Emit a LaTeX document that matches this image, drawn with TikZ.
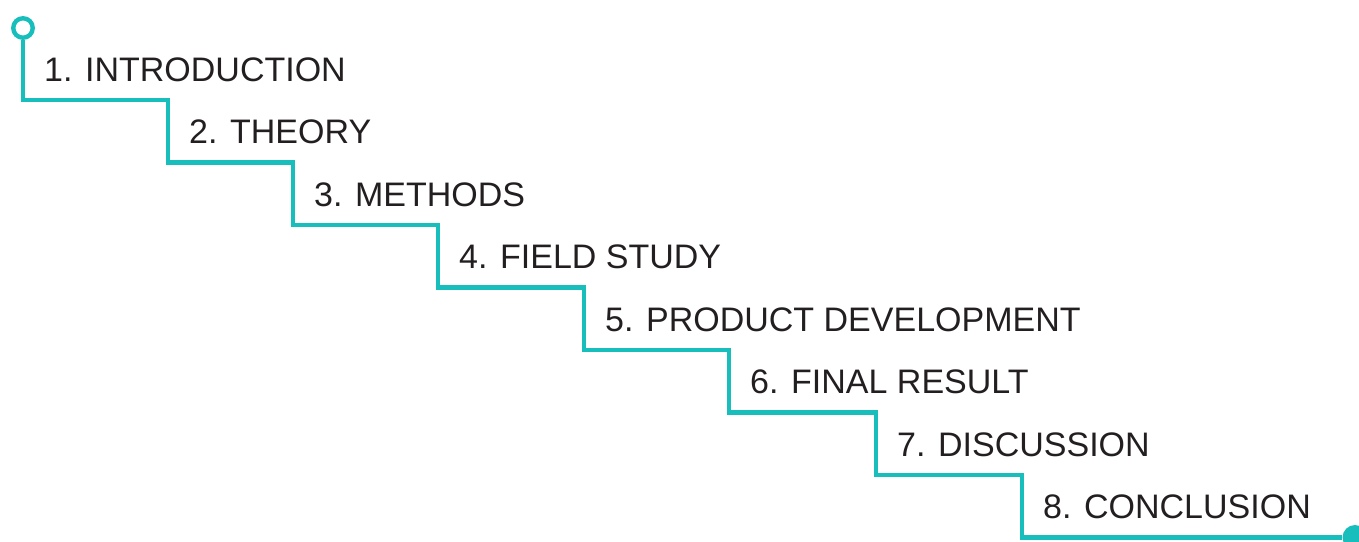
\documentclass[tikz,border=0pt]{standalone}
\usepackage{fontspec}
\setmainfont{Liberation Sans}
\definecolor{stairteal}{RGB}{23,190,187}
\definecolor{ink}{RGB}{35,31,32}
\begin{document}
\begin{tikzpicture}[x=1pt,y=-1pt,
  stairline/.style={draw=stairteal,line width=4.4pt},
  lbl/.style={anchor=base west,inner sep=0pt,text=ink,font=\fontsize{34}{40}\selectfont}]
\useasboundingbox (0,0) rectangle (1359,541);
\node[circle,draw=stairteal,line width=4.4pt,minimum size=19.5pt,inner sep=0pt] (start) at (23,28) {};
\node[circle,fill=stairteal,minimum size=25pt,inner sep=0pt] (end) at (1355,537.5) {};
% corners
\coordinate (c1a) at (23,100);
\coordinate (c1b) at (168,100);
\coordinate (c2a) at (168,162.5);
\coordinate (c2b) at (293,162.5);
\coordinate (c3a) at (293,225);
\coordinate (c3b) at (438,225);
\coordinate (c4a) at (438,287.5);
\coordinate (c4b) at (584,287.5);
\coordinate (c5a) at (584,350);
\coordinate (c5b) at (729,350);
\coordinate (c6a) at (729,412.5);
\coordinate (c6b) at (876,412.5);
\coordinate (c7a) at (876,475);
\coordinate (c7b) at (1022,475);
\coordinate (c8a) at (1022,537.5);
\draw[stairline] (start.south) -- (c1a) -- (c1b) -- (c2a) -- (c2b) -- (c3a) -- (c3b)
  -- (c4a) -- (c4b) -- (c5a) -- (c5b) -- (c6a) -- (c6b) -- (c7a) -- (c7b) -- (c8a) -- (end.west);
% labels
\node[lbl] (t1) at (44,81) {1. INTRODUCTION};
\node[lbl] (t2) at (189,143.5) {2. THEORY};
\node[lbl] (t3) at (314,206) {3. METHODS};
\node[lbl] (t4) at (459,268.5) {4. FIELD STUDY};
\node[lbl] (t5) at (605,331) {5. PRODUCT DEVELOPMENT};
\node[lbl] (t6) at (750,393.5) {6. FINAL RESULT};
\node[lbl] (t7) at (897,456) {7. DISCUSSION};
\node[lbl] (t8) at (1043,518.5) {8. CONCLUSION};
\end{tikzpicture}
\end{document}
